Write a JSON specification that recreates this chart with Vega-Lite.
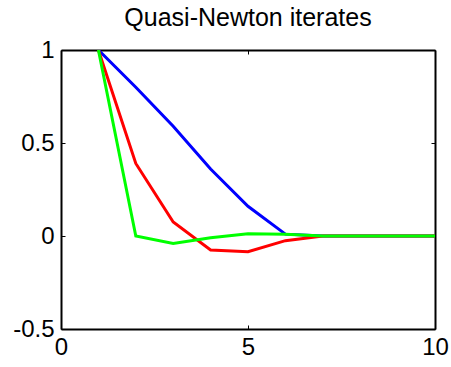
{
  "$schema": "https://vega.github.io/schema/vega-lite/v6.json",
  "width": 374,
  "height": 279,
  "autosize": {"type": "none"},
  "padding": {"left": 61, "top": 50, "right": 16, "bottom": 38},
  "background": "white",
  "title": {"text": "Quasi-Newton iterates", "font": "Liberation Sans", "fontSize": 25, "fontWeight": "normal", "color": "black", "offset": 7},
  "config": {
    "view": {"stroke": null},
    "axis": {"domainColor": "black", "domainWidth": 2, "tickColor": "black", "tickWidth": 1, "tickSize": -4, "grid": false, "labelFont": "Liberation Sans", "labelFontSize": 24, "labelColor": "black", "title": null, "labelFlush": false, "labelExpr": "datum.value + ''"}
  },
  "data": {"values": [
    {"k": 1, "v": 1, "s": "1"}, {"k": 2, "v": 0.8, "s": "1"}, {"k": 3, "v": 0.59, "s": "1"}, {"k": 4, "v": 0.36, "s": "1"}, {"k": 5, "v": 0.16, "s": "1"}, {"k": 6, "v": 0.01, "s": "1"}, {"k": 7, "v": 0, "s": "1"}, {"k": 8, "v": 0, "s": "1"}, {"k": 9, "v": 0, "s": "1"}, {"k": 10, "v": 0, "s": "1"},
    {"k": 1, "v": 1, "s": "2"}, {"k": 2, "v": 0.39, "s": "2"}, {"k": 3, "v": 0.075, "s": "2"}, {"k": 4, "v": -0.075, "s": "2"}, {"k": 5, "v": -0.085, "s": "2"}, {"k": 6, "v": -0.025, "s": "2"}, {"k": 7, "v": 0, "s": "2"}, {"k": 8, "v": 0, "s": "2"}, {"k": 9, "v": 0, "s": "2"}, {"k": 10, "v": 0, "s": "2"},
    {"k": 1, "v": 1, "s": "3"}, {"k": 2, "v": 0, "s": "3"}, {"k": 3, "v": -0.04, "s": "3"}, {"k": 4, "v": -0.01, "s": "3"}, {"k": 5, "v": 0.012, "s": "3"}, {"k": 6, "v": 0.01, "s": "3"}, {"k": 7, "v": 0, "s": "3"}, {"k": 8, "v": 0, "s": "3"}, {"k": 9, "v": 0, "s": "3"}, {"k": 10, "v": 0, "s": "3"}
  ]},
  "layer": [
    {
      "mark": {"type": "line", "strokeWidth": 3, "clip": true},
      "encoding": {
        "x": {"field": "k", "type": "quantitative", "scale": {"domain": [0, 10], "nice": false, "zero": false}, "axis": {"orient": "bottom", "values": [0, 5, 10], "labelPadding": 10, "encode": {"labels": {"update": {"dx": {"signal": "datum.value == 10 ? -6 : 0"}}}}}},
        "y": {"field": "v", "type": "quantitative", "scale": {"domain": [-0.5, 1], "nice": false, "zero": false}, "axis": {"orient": "left", "values": [-0.5, 0, 0.5, 1], "labelPadding": 11}},
        "color": {"field": "s", "type": "nominal", "scale": {"domain": ["1", "2", "3"], "range": ["#0000ff", "#ff0000", "#00ff00"]}, "legend": null}
      }
    },
    {
      "mark": {"type": "point", "opacity": 0},
      "encoding": {
        "x": {"field": "k", "type": "quantitative", "axis": {"orient": "top", "values": [0, 5, 10], "labels": false}},
        "y": {"field": "v", "type": "quantitative", "axis": {"orient": "right", "values": [-0.5, 0, 0.5, 1], "labels": false}}
      }
    }
  ],
  "resolve": {"axis": {"x": "independent", "y": "independent"}}
}
